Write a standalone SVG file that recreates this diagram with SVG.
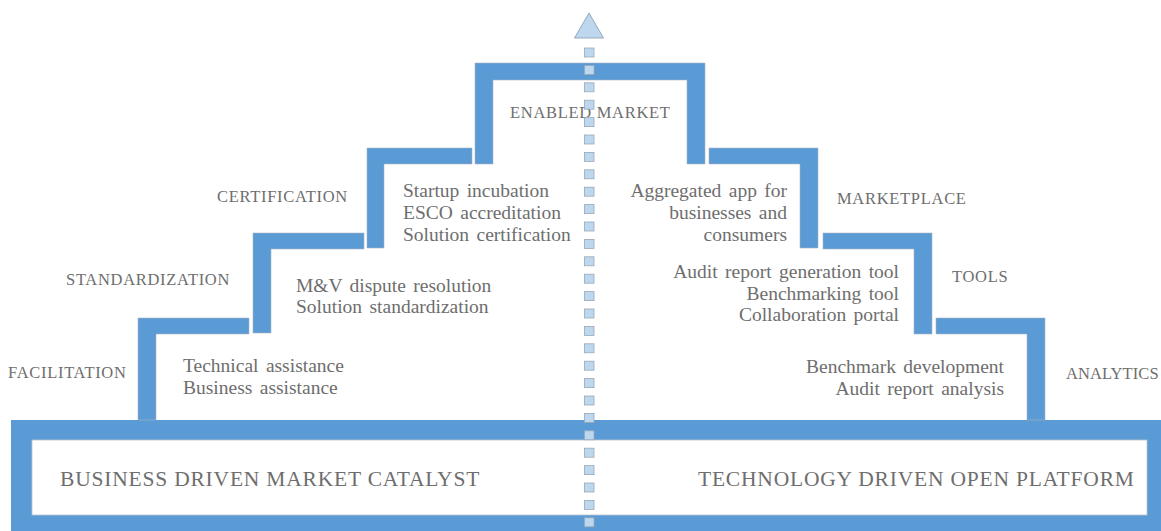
<svg xmlns="http://www.w3.org/2000/svg" xmlns:xlink="http://www.w3.org/1999/xlink" width="1161" height="531" viewBox="0 0 1161 531">
<style>
.bar{fill:#5B9BD5;stroke:#a7b4c2;stroke-width:0.6}
.lbl{font-family:"Liberation Serif","Times New Roman",serif;font-size:16.5px;fill:#6e6e6e;letter-spacing:0.7px}
.txt{font-family:"Liberation Serif","Times New Roman",serif;font-size:19.5px;fill:#6e6e6e;word-spacing:2.5px}
.base{font-family:"Liberation Serif","Times New Roman",serif;font-size:21.5px;fill:#6e6e6e;letter-spacing:0.8px}
.end{text-anchor:end}
.sq{fill:#BDD7EE;stroke:#9aa8b6;stroke-width:0.8}
</style>
<defs>
<rect id="sq" class="sq" x="584.5" y="0" width="9.5" height="9"/>
</defs>
<rect width="1161" height="531" fill="#ffffff"/>

<g id="base">
<rect x="11" y="420" width="1150" height="111" fill="#5B9BD5"/>
<rect x="32" y="440" width="1115" height="75" fill="#ffffff" stroke="#b9c3cc" stroke-width="0.8"/>
<text class="base" x="60" y="486">BUSINESS DRIVEN MARKET CATALYST</text>
<text class="base" x="698" y="486">TECHNOLOGY DRIVEN OPEN PLATFORM</text>
</g>

<g id="facilitation">
<path class="bar" d="M138,420 V318 H249 V334 H156 V420 Z"/>
<text class="lbl" x="8" y="378">FACILITATION</text>
<text class="txt" x="183" y="372">Technical assistance</text>
<text class="txt" x="183" y="394">Business assistance</text>
</g>

<g id="standardization">
<path class="bar" d="M253,333 V233 H364 V249 H271 V333 Z"/>
<text class="lbl" x="66" y="285">STANDARDIZATION</text>
<text class="txt" x="296" y="292">M&amp;V dispute resolution</text>
<text class="txt" x="296" y="313">Solution standardization</text>
</g>

<g id="certification">
<path class="bar" d="M367,248 V148 H472 V164 H384 V248 Z"/>
<text class="lbl" x="217" y="202">CERTIFICATION</text>
<text class="txt" x="403" y="197">Startup incubation</text>
<text class="txt" x="403" y="219">ESCO accreditation</text>
<text class="txt" x="403" y="241">Solution certification</text>
</g>

<g id="enabled-market">
<path class="bar" d="M475,164 V63 H705 V164 H687 V80 H493 V164 Z"/>
<text class="lbl" x="510" y="118">ENABLED MARKET</text>
</g>

<g id="marketplace">
<path class="bar" d="M709,148 H818 V248 H800 V164 H709 Z"/>
<text class="lbl" x="837" y="204">MARKETPLACE</text>
<text class="txt end" x="787" y="197">Aggregated app for</text>
<text class="txt end" x="787" y="219">businesses and</text>
<text class="txt end" x="787" y="241">consumers</text>
</g>

<g id="tools">
<path class="bar" d="M823,233 H932 V334 H914 V249 H823 Z"/>
<text class="lbl" x="952" y="282">TOOLS</text>
<text class="txt end" x="899" y="278">Audit report generation tool</text>
<text class="txt end" x="899" y="300">Benchmarking tool</text>
<text class="txt end" x="899" y="321">Collaboration portal</text>
</g>

<g id="analytics">
<path class="bar" d="M936,318 H1045 V420 H1027 V334 H936 Z"/>
<text class="lbl" x="1066" y="379" style="letter-spacing:0.1px">ANALYTICS</text>
<text class="txt end" x="1004" y="373">Benchmark development</text>
<text class="txt end" x="1004" y="395">Audit report analysis</text>
</g>

<g id="connectors">
<polygon points="589,13 574.5,38 603.5,38" fill="#BDD7EE" stroke="#8fa0b2" stroke-width="0.9"/>
<use xlink:href="#sq" y="48"/>
<use xlink:href="#sq" y="65.4"/>
<use xlink:href="#sq" y="82.8"/>
<use xlink:href="#sq" y="100.2"/>
<use xlink:href="#sq" y="117.6"/>
<use xlink:href="#sq" y="135"/>
<use xlink:href="#sq" y="152.4"/>
<use xlink:href="#sq" y="169.8"/>
<use xlink:href="#sq" y="187.2"/>
<use xlink:href="#sq" y="204.6"/>
<use xlink:href="#sq" y="222"/>
<use xlink:href="#sq" y="239.4"/>
<use xlink:href="#sq" y="256.8"/>
<use xlink:href="#sq" y="274.2"/>
<use xlink:href="#sq" y="291.6"/>
<use xlink:href="#sq" y="309"/>
<use xlink:href="#sq" y="326.4"/>
<use xlink:href="#sq" y="343.8"/>
<use xlink:href="#sq" y="361.2"/>
<use xlink:href="#sq" y="378.6"/>
<use xlink:href="#sq" y="396"/>
<use xlink:href="#sq" y="413.4"/>
<use xlink:href="#sq" y="430.8"/>
<use xlink:href="#sq" y="448.2"/>
<use xlink:href="#sq" y="465.6"/>
<use xlink:href="#sq" y="483"/>
<use xlink:href="#sq" y="500.4"/>
<use xlink:href="#sq" y="517.8"/>
</g>
</svg>
